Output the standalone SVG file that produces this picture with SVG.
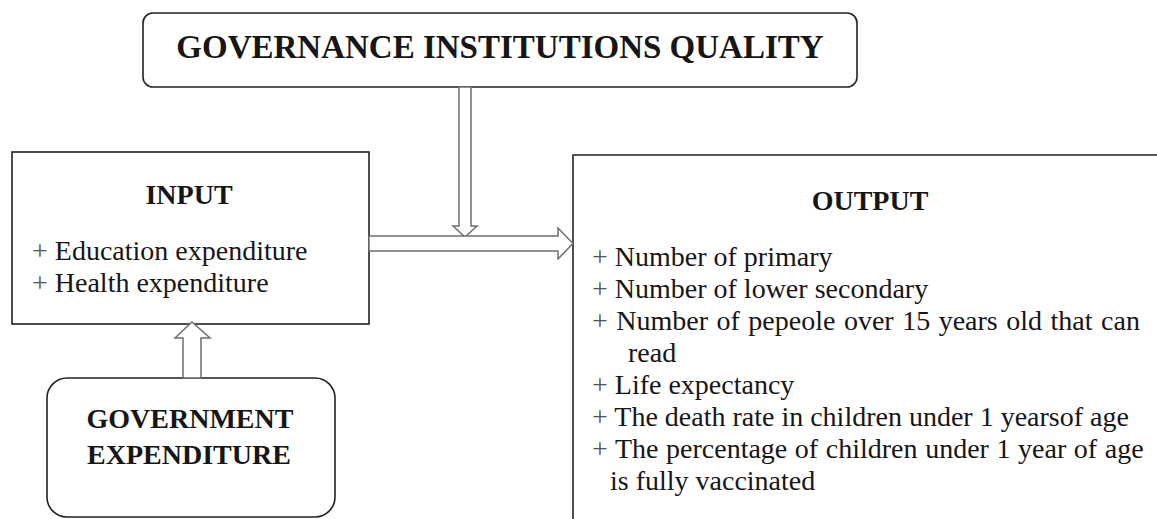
<svg xmlns="http://www.w3.org/2000/svg" width="1157" height="519" viewBox="0 0 1157 519">
<style>
.box{fill:#fff;stroke:#222;stroke-width:1.6}
.arrow{fill:#fff;stroke:#6e6e6e;stroke-width:1.5}
.t{font-family:"Liberation Serif","Times New Roman",serif;font-size:28px;fill:#161616}
.b{font-weight:bold}
.p{fill:#555}
</style>
<rect width="1157" height="519" fill="#fff"/>
<g id="output">
<path class="box" d="M573,525 V155 H1165" fill="none"/>
<text class="t b" x="870" y="210" text-anchor="middle">OUTPUT</text>
<text class="t" x="592" y="266"><tspan class="p">+</tspan> Number of primary</text>
<text class="t" x="592" y="298"><tspan class="p">+</tspan> Number of lower secondary</text>
<text class="t" x="592" y="330" word-spacing="1.5"><tspan class="p">+</tspan> Number of pepeole over 15 years old that can</text>
<text class="t" x="628" y="362">read</text>
<text class="t" x="592" y="394"><tspan class="p">+</tspan> Life expectancy</text>
<text class="t" x="592" y="426"><tspan class="p">+</tspan> The death rate in children under 1 yearsof age</text>
<text class="t" x="592" y="458" word-spacing="0.6"><tspan class="p">+</tspan> The percentage of children under 1 year of age</text>
<text class="t" x="610" y="490">is fully vaccinated</text>
</g>
<g id="governance">
<rect class="box" x="143" y="13" width="714" height="74" rx="10"/>
<text class="t b" x="500" y="58" font-size="33" text-anchor="middle" style="font-size:33px">GOVERNANCE INSTITUTIONS QUALITY</text>
</g>
<g id="input">
<rect class="box" x="12" y="152" width="357" height="172"/>
<text class="t b" x="189" y="204" text-anchor="middle">INPUT</text>
<text class="t" x="32" y="260"><tspan class="p">+</tspan> Education expenditure</text>
<text class="t" x="32" y="292"><tspan class="p">+</tspan> Health expenditure</text>
</g>
<g id="government">
<rect class="box" x="47" y="378" width="288" height="139" rx="20"/>
<text class="t b" x="190" y="428" text-anchor="middle">GOVERNMENT</text>
<text class="t b" x="189" y="464" text-anchor="middle">EXPENDITURE</text>
</g>
<g id="connectors">
<path class="arrow" d="M459,87 V226 H453 L465,237 L477,226 H471 V87 Z"/>
<path class="arrow" d="M369,236 H558 V228 L573,243.5 L558,259 V251 H369 Z"/>
<path class="arrow" d="M183,378 V338 H175 L192,322 L210,338 H201 V378 Z"/>
</g>
</svg>
